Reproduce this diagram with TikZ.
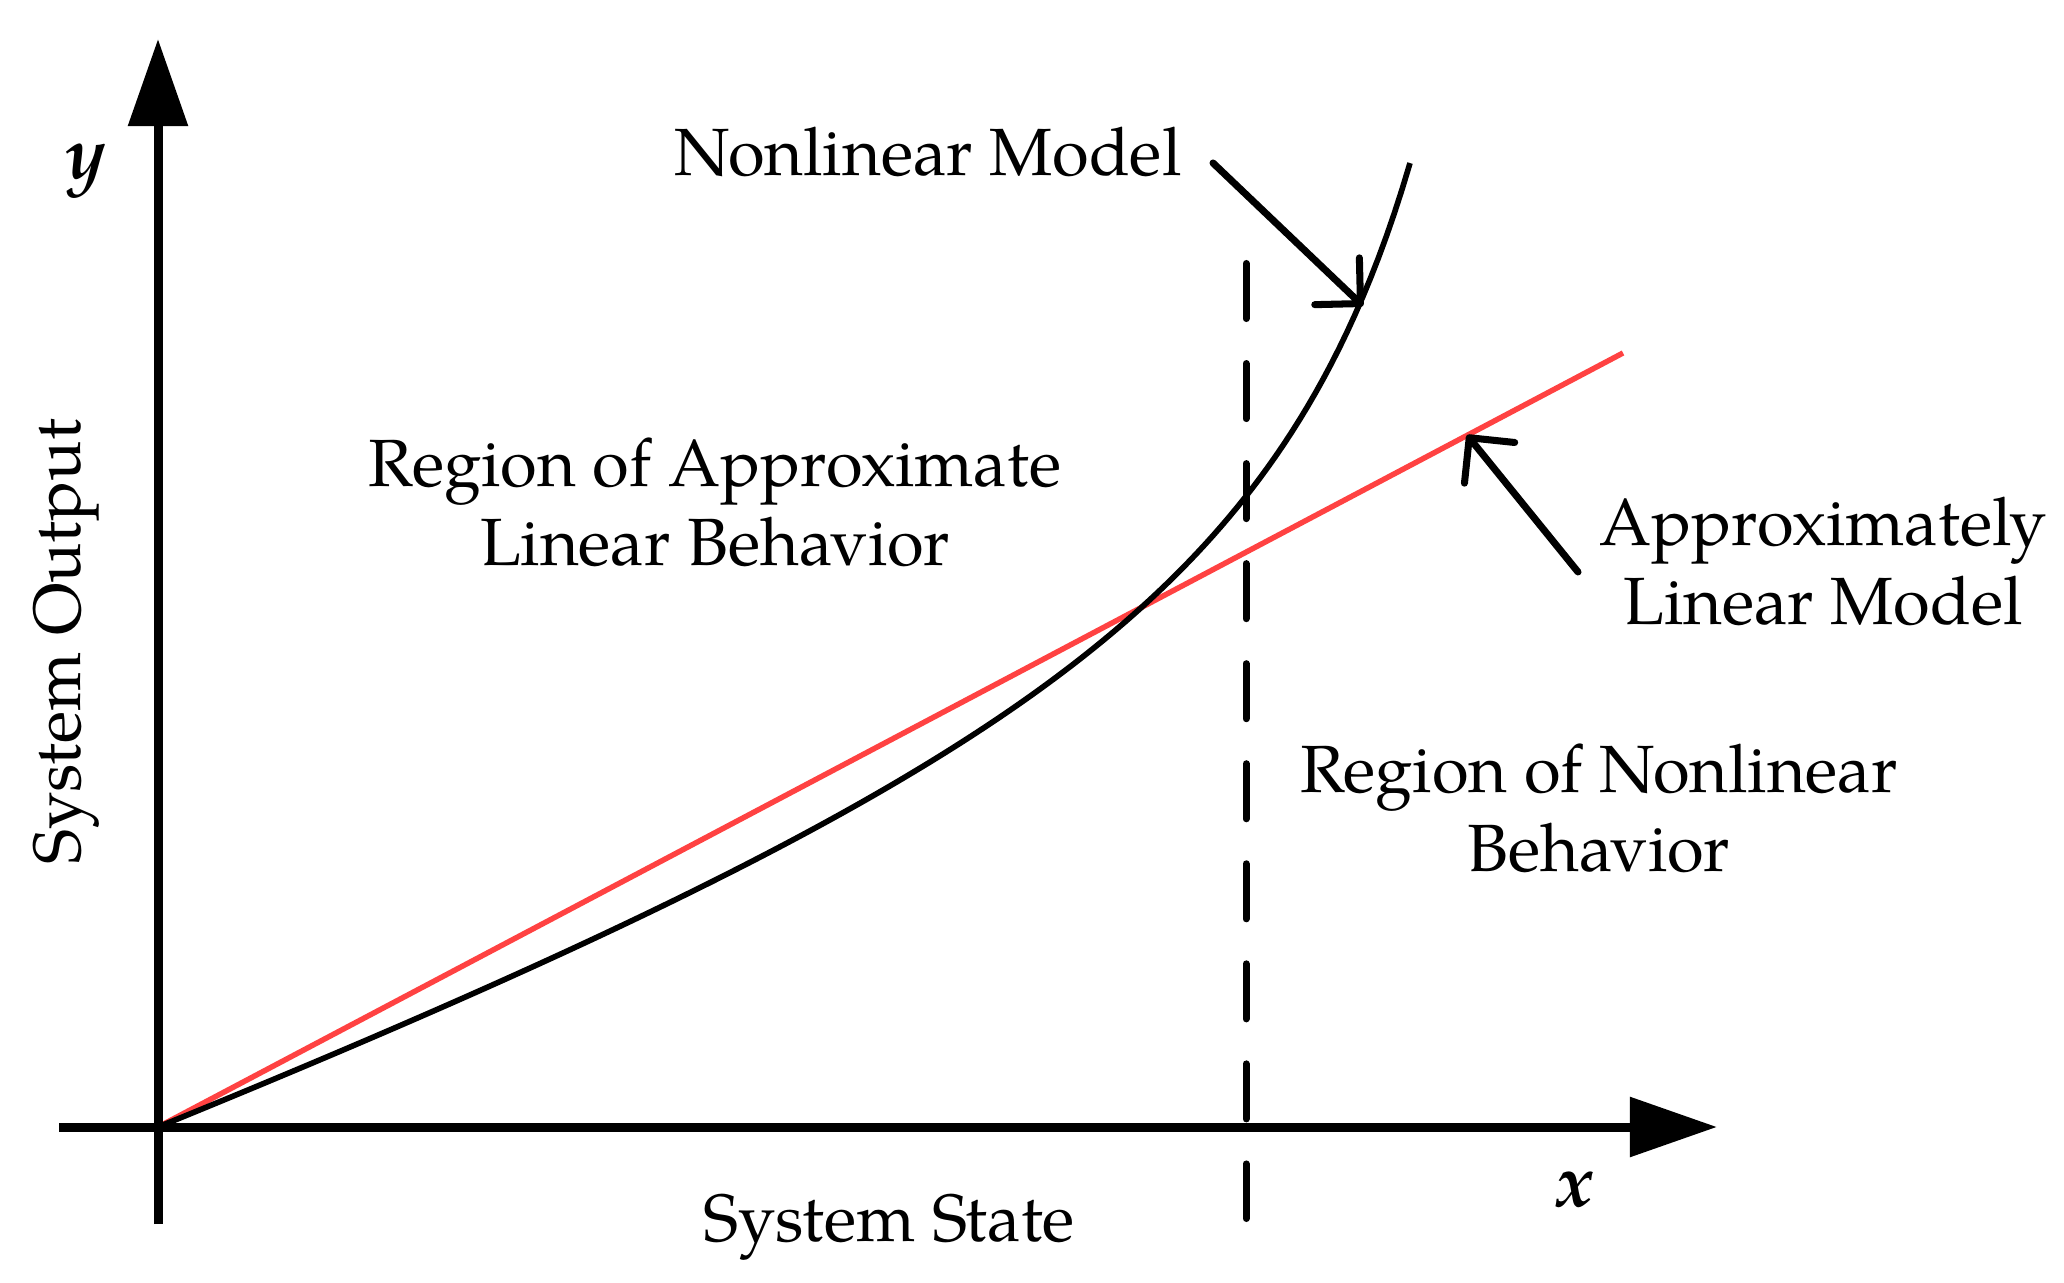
\documentclass[tikz,border=0pt]{standalone}
\usepackage{fontspec}
\setmainfont{texgyrepagella}[Extension=.otf, UprightFont=*-regular, BoldFont=*-bold, ItalicFont=*-italic, BoldItalicFont=*-bolditalic]
\usetikzlibrary{arrows.meta}
\definecolor{linred}{RGB}{255,66,66}
\tikzset{
  axisline/.style={line width=2.56pt, -{Triangle[length=24.75pt, width=16.5pt]}},
  nlcurve/.style={line width=1.6pt, black},
  redline/.style={line width=1.55pt, linred},
  divider/.style={line width=2pt, line cap=round, dash pattern=on 15.65pt off 12.8pt},
  pointer/.style={line width=2pt, line cap=round, -{Straight Barb[angle=90:13pt, round]}},
  lbl/.style={font=\fontsize{19}{22.5}\selectfont, inner sep=0pt, align=center},
  axlbl/.style={font=\fontsize{21}{24}\selectfont\bfseries\itshape, inner sep=0pt}
}
\begin{document}
\begin{tikzpicture}[x=0.01cm, y=-0.01cm]
\useasboundingbox (0,0) rectangle (2064,1283);
% named points
\coordinate (O) at (158,1127);
\coordinate (ytip) at (158,39);
\coordinate (ybot) at (158,1224);
\coordinate (xleft) at (59,1127);
\coordinate (xtip) at (1717,1127);
\coordinate (Dtop) at (1246,263.5);
\coordinate (Dbot) at (1246,1218.5);
\coordinate (Rend) at (1623,353);
\coordinate (nlTail) at (1213,163);
\coordinate (nlTip) at (1363,306);
\coordinate (alTail) at (1578,572);
\coordinate (alTip) at (1467,435);
% dashed divider
\draw[divider] (Dtop) -- (Dbot);
% linear model
\draw[redline] (O) -- (Rend);
% nonlinear model
\draw[nlcurve] plot[domain=0:1252, samples=160] ({158+\x},{1127-(0.3502*\x+83.103*(\x/(1450-\x)))});
% axes
\draw[axisline] (ybot) -- (ytip);
\draw[axisline] (xleft) -- (xtip);
% labels
\node[axlbl] (ylab) at (86,171) {y};
\node[axlbl] (xlab) at (1575,1190) {x};
\node[lbl, anchor=base] (nlm) at (928,176) {Nonlinear Model};
\node[lbl] (rap) at (715,502) {Region of Approximate\\Linear Behavior};
\node[lbl] (alm) at (1823,561) {Approximately\\Linear Model};
\node[lbl] (rnb) at (1599,808) {Region of Nonlinear\\Behavior};
\node[lbl, anchor=base] (ss) at (889,1241) {System State};
\node[lbl, anchor=base, rotate=90] (so) at (80,642) {System Output};
% pointers
\draw[pointer] (nlTail) -- (nlTip);
\draw[pointer] (alTail) -- (alTip);
\end{tikzpicture}
\end{document}
